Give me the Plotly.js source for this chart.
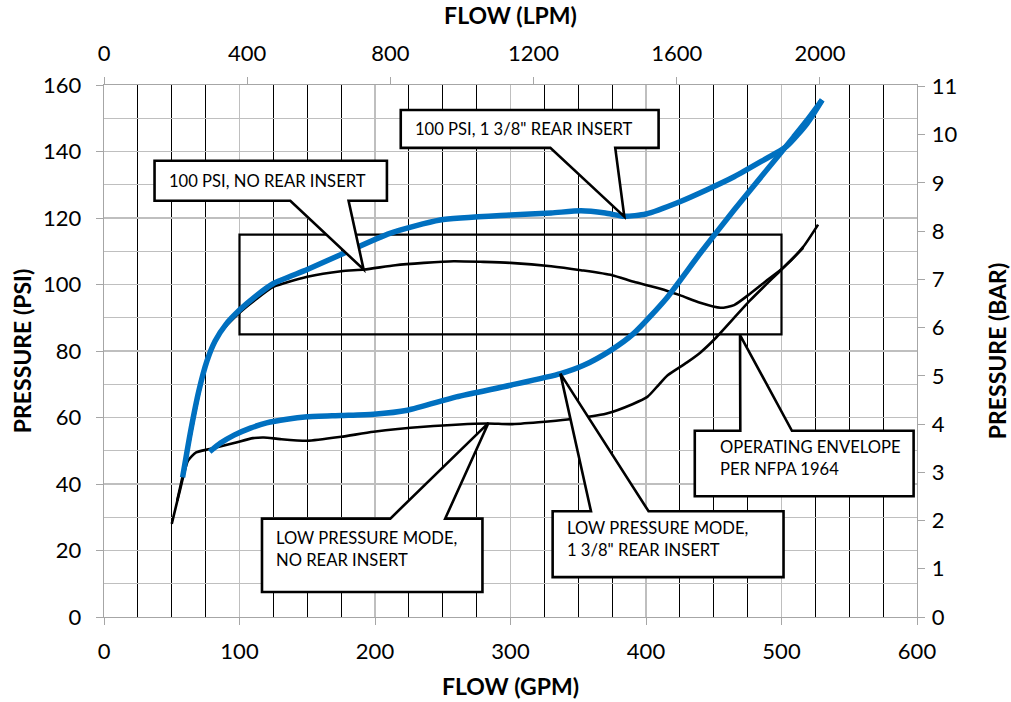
<!DOCTYPE html>
<html>
<head>
<meta charset="utf-8">
<script src="https://cdn.plot.ly/plotly-3.0.1.min.js"></script>
<style>html,body{margin:0;padding:0;background:#fff;}#chart{width:1011px;height:702px;}</style>
</head>
<body>
<div id="chart"></div>
<script>
// ---- DATA ----
// 100 PSI, 1 3/8" rear insert (blue)
var gpmHiInsert = [58, 64, 70, 76, 82, 90, 100, 112, 125, 150, 177, 211, 248, 300, 330, 352, 370, 384, 400, 425, 445, 465, 485, 504, 519, 530];
var psiHiInsert = [42, 56, 68, 77, 83, 88, 92.3, 96.5, 100.3, 104.5, 109.4, 115.4, 119.4, 120.9, 121.5, 122.2, 121.5, 120.5, 121.2, 124.9, 128.5, 132.4, 137, 141.6, 148.5, 155.5];
// 100 PSI, no rear insert (black)
var gpmHiNone = [54, 60, 68, 76, 86, 100, 112, 125, 150, 175, 192, 215, 236, 258, 280, 300, 330, 352, 375, 391, 410, 425, 440, 455, 465, 477, 490, 502, 516, 527];
var psiHiNone = [35, 46, 63, 77, 85.5, 91.5, 95.5, 99.3, 102.3, 104, 104.5, 105.8, 106.5, 107, 106.8, 106.5, 105.5, 104.3, 102.8, 100.8, 98.8, 96.8, 94.5, 93, 93.8, 97.3, 101.5, 105.3, 111.3, 118];
// Low pressure mode, 1 3/8" rear insert (blue)
var gpmLoInsert = [78, 86, 96, 108, 120, 135, 150, 175, 199, 224, 260, 300, 337, 354, 374, 391, 415, 440, 465, 489, 509, 520, 530];
var psiLoInsert = [49.7, 52.3, 54.7, 56.8, 58.4, 59.5, 60.2, 60.6, 61, 62.2, 66.2, 69.7, 73.2, 75.7, 80.2, 85.3, 95.8, 109.4, 122.4, 134.4, 144.4, 150, 155.5];
// Low pressure mode, no rear insert (black)
var gpmLoNone = [50, 56, 62, 68, 78, 96, 110, 118, 130, 150, 175, 199, 236, 283, 300, 342, 371, 390, 401, 408, 416, 430, 440, 450, 477, 500, 516];
var psiLoNone = [28, 38, 47, 49.5, 50.5, 52.3, 53.8, 54, 53.5, 53, 54.2, 55.7, 57.2, 58.2, 58, 59.4, 61.2, 64, 66.2, 69.2, 72.7, 76.5, 79.5, 83.3, 95.3, 104.5, 111];
// Operating envelope per NFPA 1964 (GPM range, PSI range)
var envelopeGpm = [100, 500];
var envelopePsi = [85, 115];

// axis tick values
var gpmTicks = [0, 100, 200, 300, 400, 500, 600];
var psiTicks = [0, 20, 40, 60, 80, 100, 120, 140, 160];
var lpmTicks = [0, 400, 800, 1200, 1600, 2000];
var barTicks = [0, 1, 2, 3, 4, 5, 6, 7, 8, 9, 10, 11];

var LPM_PER_GPM = 3.785411784;
var BAR_PER_PSI = 1 / 14.5037738;

// ---- STYLE ----
var FONT = 'Lato, "Open Sans", sans-serif';
var BLUE = '#0070C0';
var GRID = '#BFBFBF';
var AXIS = '#A6A6A6';

function curve(x, y, color, width) {
  return {x: x, y: y, type: 'scatter', mode: 'lines', xaxis: 'x', yaxis: 'y',
    line: {color: color, width: width, shape: 'spline', smoothing: 0.6},
    hoverinfo: 'skip', showlegend: false};
}

var traces = [
  curve(gpmLoNone, psiLoNone, '#000', 2.6),
  curve(gpmHiNone, psiHiNone, '#000', 2.6),
  curve(gpmLoInsert, psiLoInsert, BLUE, 5.5),
  curve(gpmHiInsert, psiHiInsert, BLUE, 5.5),
  // invisible companions so that the secondary (LPM / BAR) axes are instantiated
  {x: gpmHiInsert.map(function(v){return v * LPM_PER_GPM;}), y: psiHiInsert, xaxis: 'x2', yaxis: 'y',
   type: 'scatter', mode: 'lines', line: {width: 0}, opacity: 0, hoverinfo: 'skip', showlegend: false},
  {x: gpmHiInsert, y: psiHiInsert.map(function(v){return v * BAR_PER_PSI;}), xaxis: 'x', yaxis: 'y2',
   type: 'scatter', mode: 'lines', line: {width: 0}, opacity: 0, hoverinfo: 'skip', showlegend: false}
];

// ---- CALLOUTS (layout geometry in data units) ----
var callouts = [
  {lines: ['100 PSI, NO REAR INSERT'], box: [37.3, 208.8, 125.2, 137.2], tail: 'bottom', base: [137.5, 180.5], tip: [191.6, 104.5], tx: 46.5},
  {lines: ['100 PSI, 1 3/8" REAR INSERT'], box: [219, 409.3, 141.1, 152.5], tail: 'bottom', base: [329.4, 377.3], tip: [384, 120.4], tx: 228},
  {lines: ['LOW PRESSURE MODE,', 'NO REAR INSERT'], box: [116.6, 279.3, 7.5, 29.6], tail: 'top', base: [211.3, 251.8], tip: [283.8, 58.4], tx: 125.2},
  {lines: ['LOW PRESSURE MODE,', '1 3/8" REAR INSERT'], box: [331.1, 501.5, 12.0, 31.8], tail: 'top', base: [359.4, 401.9], tip: [336.8, 73.2], tx: 340},
  {lines: ['OPERATING ENVELOPE', 'PER NFPA 1964'], box: [436, 597.5, 36.3, 56.0], tail: 'top', base: [469.6, 507.7], tip: [469.4, 84.8], tx: 453.5}
];

var shapes = [{
  type: 'rect', xref: 'x', yref: 'y', layer: 'between',
  x0: envelopeGpm[0], x1: envelopeGpm[1], y0: envelopePsi[0], y1: envelopePsi[1],
  line: {color: '#000', width: 2.2}, fillcolor: 'rgba(0,0,0,0)'
}];
var annotations = [];

callouts.forEach(function(c) {
  var x0 = c.box[0], x1 = c.box[1], yb = c.box[2], yt = c.box[3];
  var p;
  if (c.tail === 'bottom') {
    p = 'M' + x0 + ',' + yt + ' L' + x1 + ',' + yt + ' L' + x1 + ',' + yb +
        ' L' + c.base[1] + ',' + yb + ' L' + c.tip[0] + ',' + c.tip[1] +
        ' L' + c.base[0] + ',' + yb + ' L' + x0 + ',' + yb + ' Z';
  } else {
    p = 'M' + x0 + ',' + yb + ' L' + x0 + ',' + yt + ' L' + c.base[0] + ',' + yt +
        ' L' + c.tip[0] + ',' + c.tip[1] + ' L' + c.base[1] + ',' + yt +
        ' L' + x1 + ',' + yt + ' L' + x1 + ',' + yb + ' Z';
  }
  shapes.push({type: 'path', xref: 'x', yref: 'y', layer: 'above', path: p,
    fillcolor: '#fff', line: {color: '#000', width: 2.6}});
  var yMid = c.lines.length === 1 ? (yb + yt) / 2 : yt - (yt - yb) * 0.42;
  annotations.push({xref: 'x', yref: 'y', x: c.tx, y: yMid, xanchor: 'left', yanchor: 'middle',
    text: c.lines.join('<br>'), align: 'left', showarrow: false,
    font: {family: FONT, size: 16.6, color: '#000'}});
});

var tickFont = {family: FONT, size: 22, color: '#000'};
var titleFont = {family: FONT, size: 23, color: '#000', weight: 'bold'};

var layout = {
  width: 1011, height: 702,
  margin: {l: 104, r: 94, t: 85, b: 85, pad: 0},
  paper_bgcolor: '#fff', plot_bgcolor: '#fff',
  showlegend: false,
  xaxis: {
    range: [0, 600], tickvals: gpmTicks, ticks: 'outside', ticklen: 7, tickcolor: AXIS, tickwidth: 1,
    ticklabelstandoff: 7,
    showgrid: true, gridcolor: GRID, gridwidth: 1.3, zeroline: false,
    minor: {dtick: 25, tick0: 0, showgrid: true, gridcolor: '#000', gridwidth: 1, ticks: ''},
    showline: true, linecolor: AXIS, linewidth: 1.3,
    tickfont: tickFont, automargin: false,
    title: {text: 'FLOW (GPM)', font: titleFont, standoff: 16}
  },
  xaxis2: {
    overlaying: 'x', side: 'top', anchor: 'y',
    range: [0, 600 * LPM_PER_GPM], tickvals: lpmTicks, ticks: 'outside', ticklen: 7, tickcolor: AXIS,
    ticklabelstandoff: 7,
    showgrid: false, zeroline: false, showline: true, linecolor: AXIS, linewidth: 1.3,
    tickfont: tickFont, automargin: false,
    title: {text: 'FLOW (LPM)', font: titleFont, standoff: 8}
  },
  yaxis: {
    range: [0, 160], tickvals: psiTicks, ticks: 'outside', ticklen: 7, tickcolor: AXIS,
    ticklabelstandoff: 10,
    showgrid: true, gridcolor: GRID, gridwidth: 1.3, zeroline: false,
    minor: {dtick: 10, tick0: 0, showgrid: true, gridcolor: GRID, gridwidth: 1.3, ticks: ''},
    showline: true, linecolor: AXIS, linewidth: 1.3,
    tickfont: tickFont, automargin: false,
    title: {text: 'PRESSURE (PSI)', font: titleFont, standoff: 5}
  },
  yaxis2: {
    overlaying: 'y', side: 'right', anchor: 'x',
    range: [0, 160 * BAR_PER_PSI], tickvals: barTicks, ticks: 'outside', ticklen: 7, tickcolor: AXIS,
    ticklabelstandoff: 2,
    showgrid: false, zeroline: false, showline: true, linecolor: AXIS, linewidth: 1.3,
    tickfont: tickFont, automargin: false,
    title: {text: 'PRESSURE (BAR)', font: titleFont, standoff: 34}
  },
  shapes: shapes,
  annotations: annotations
};

Plotly.newPlot('chart', traces, layout, {displayModeBar: false, staticPlot: true});
</script>
</body>
</html>
